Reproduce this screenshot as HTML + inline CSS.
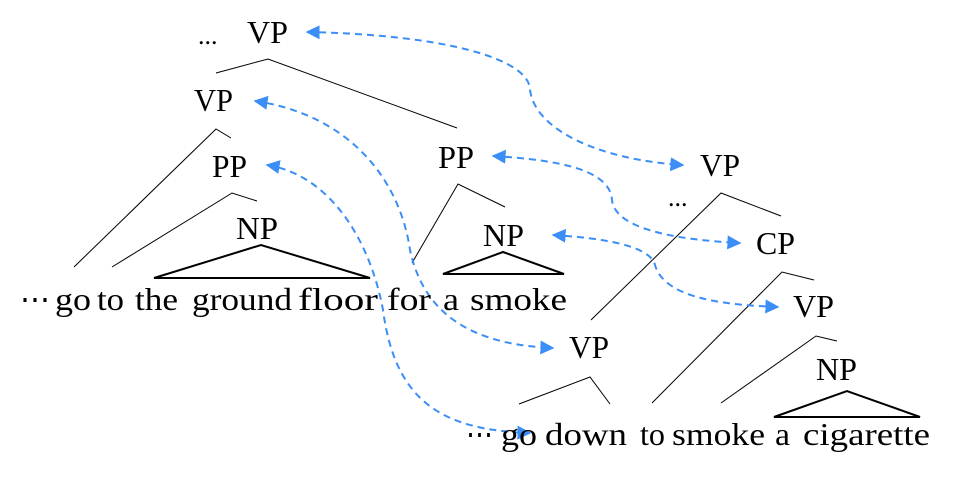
<!DOCTYPE html>
<html><head><meta charset="utf-8"><style>
html,body{margin:0;padding:0;background:#fff;}
svg{display:block;}
</style></head><body>
<svg width="954" height="479" viewBox="0 0 954 479" xmlns="http://www.w3.org/2000/svg">
<defs>
<marker id="ah" viewBox="0 0 10 10" refX="9" refY="5" markerWidth="7" markerHeight="7" orient="auto-start-reverse" markerUnits="strokeWidth">
<path d="M0,0 L10,5 L0,10 z" fill="#3a8ef6"/>
</marker>
</defs>
<g stroke="#000" stroke-width="1" fill="none">
<polyline points="216,73 268,59 457,128"/>
<polyline points="74,267 216,129 231,138"/>
<polyline points="112,267 232,193 257,201"/>
<polyline points="412,263 458,184 505,207"/>
<polyline points="591,320 721,193 781,216"/>
<polyline points="652,403 782,272 814,280"/>
<polyline points="721,403 816,336 837,341"/>
<polyline points="519,404 590,377 610,404"/>
</g>
<g stroke="#000" stroke-width="2" fill="none">
<polygon points="154,278 261,245 370,278"/>
<polygon points="443,274 503,252 564,274"/>
<polygon points="774,417 847,391 920,417"/>
</g>
<g stroke="#3a8ef6" stroke-width="2" fill="none" stroke-dasharray="7,5" marker-start="url(#ah)" marker-end="url(#ah)">
<path d="M307,32 C450,35 530,60 530,90 C535,130 600,160 683,165"/>
<path d="M255,101 C350,115 400,180 410,250 C425,320 480,345 553,348"/>
<path d="M267,165 C330,175 370,240 383,310 C395,400 440,430 530,433"/>
<path d="M493,156 C560,160 610,170 612,200 C615,230 680,240 740,243"/>
<path d="M553,235 C600,238 650,245 655,265 C665,300 730,305 778,307"/>
</g>
<g font-family="Liberation Serif, DejaVu Serif, serif" font-size="32" fill="#000">
<text x="198" y="44" font-size="26">...</text>
<text x="247" y="43" textLength="41" lengthAdjust="spacingAndGlyphs">VP</text>
<text x="194" y="111" textLength="39" lengthAdjust="spacingAndGlyphs">VP</text>
<text x="212" y="177" textLength="35" lengthAdjust="spacingAndGlyphs">PP</text>
<text x="438" y="168" textLength="36" lengthAdjust="spacingAndGlyphs">PP</text>
<text x="236" y="239" textLength="42" lengthAdjust="spacingAndGlyphs">NP</text>
<text x="483" y="246" textLength="41" lengthAdjust="spacingAndGlyphs">NP</text>
<text x="20" y="310" textLength="30" lengthAdjust="spacingAndGlyphs">⋯</text>
<text x="55" y="310" textLength="36" lengthAdjust="spacingAndGlyphs">go</text>
<text x="97" y="310" textLength="27" lengthAdjust="spacingAndGlyphs">to</text>
<text x="135" y="310" textLength="43" lengthAdjust="spacingAndGlyphs">the</text>
<text x="192" y="310" textLength="100" lengthAdjust="spacingAndGlyphs">ground</text>
<text x="298" y="310" textLength="80" lengthAdjust="spacingAndGlyphs">floor</text>
<text x="387" y="310" textLength="44" lengthAdjust="spacingAndGlyphs">for</text>
<text x="443" y="310" textLength="16" lengthAdjust="spacingAndGlyphs">a</text>
<text x="470" y="310" textLength="97" lengthAdjust="spacingAndGlyphs">smoke</text>
<text x="700" y="176" textLength="40" lengthAdjust="spacingAndGlyphs">VP</text>
<text x="668" y="206" font-size="26">...</text>
<text x="756" y="254" textLength="39" lengthAdjust="spacingAndGlyphs">CP</text>
<text x="793" y="317" textLength="41" lengthAdjust="spacingAndGlyphs">VP</text>
<text x="816" y="380" textLength="41" lengthAdjust="spacingAndGlyphs">NP</text>
<text x="569" y="358" textLength="40" lengthAdjust="spacingAndGlyphs">VP</text>
<text x="466" y="445" textLength="27" lengthAdjust="spacingAndGlyphs">⋯</text>
<text x="501" y="445" textLength="36" lengthAdjust="spacingAndGlyphs">go</text>
<text x="545" y="445" textLength="82" lengthAdjust="spacingAndGlyphs">down</text>
<text x="640" y="445" textLength="25" lengthAdjust="spacingAndGlyphs">to</text>
<text x="672" y="445" textLength="93" lengthAdjust="spacingAndGlyphs">smoke</text>
<text x="775" y="445" textLength="15" lengthAdjust="spacingAndGlyphs">a</text>
<text x="803" y="445" textLength="127" lengthAdjust="spacingAndGlyphs">cigarette</text>
</g>
</svg>
</body></html>
